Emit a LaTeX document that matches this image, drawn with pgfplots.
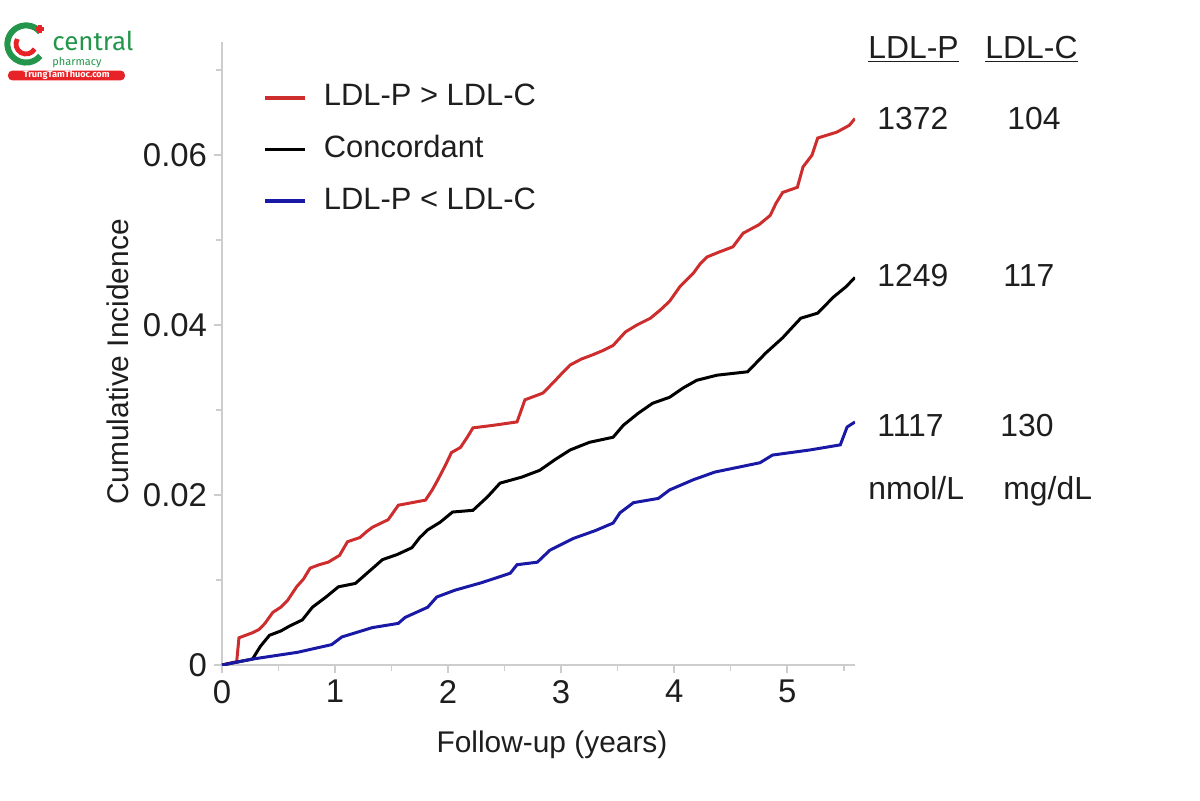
\documentclass[border=0pt]{standalone}
\usepackage{fontspec}
\setmainfont{Liberation Sans}
\newfontfamily\logofont{Fira Sans}
\usepackage{pgfplots}
\pgfplotsset{compat=1.18}
\definecolor{redline}{RGB}{205,45,45}
\definecolor{blueline}{RGB}{25,25,165}
\definecolor{axgray}{RGB}{205,205,205}
\definecolor{txt}{RGB}{30,30,30}
\definecolor{logogreen}{RGB}{35,150,75}
\definecolor{logored}{RGB}{232,35,40}
\begin{document}
\begin{tikzpicture}[x=1bp,y=1bp]
\path[use as bounding box] (-111,-67.5) rectangle (489,332.5);
\begin{axis}[
  at={(0,0)}, anchor=south west,
  scale only axis, width=316.5bp, height=311.5bp,
  xmin=0, xmax=5.6, ymin=0, ymax=0.0733,
  axis x line*=bottom, axis y line*=left,
  axis line style={axgray, line width=1pt},
  xtick={0,1,2,3,4,5},
  minor xtick={0.5,1.5,2.5,3.5,4.5,5.5},
  ytick={0,0.02,0.04,0.06},
  yticklabels={0,0.02,0.04,0.06},
  scaled y ticks=false,
  minor ytick={0.01,0.03,0.05,0.07},
  tick style={axgray, line width=0.8pt},
  major tick length=4bp, minor tick length=3bp,
  tick align=outside,
  /pgf/number format/assume math mode=true,
  tick label style={font=\fontsize{16.5}{16.5}\selectfont, text=txt},
  legend cell align=left,
  legend style={draw=none, fill=none, at={(0.065,0.935)}, anchor=north west,
    font=\fontsize{15.5}{15.5}\selectfont, text=txt, inner sep=0pt, row sep=10.8bp,
    nodes={inner xsep=8.5bp, inner ysep=0pt, text height=11.5bp, text depth=3.5bp}},
  legend image code/.code={\draw[#1, line width=1.7pt] (0bp,0bp) -- (20bp,0bp);},
]
\addplot[redline, line width=1.5pt] coordinates {
(0,0) (0.13,0.0004) (0.15,0.0032) (0.27,0.0038) (0.33,0.0042) (0.38,0.0049) (0.45,0.0062)
(0.52,0.0068) (0.58,0.0076) (0.66,0.0092) (0.72,0.0101) (0.78,0.0114) (0.86,0.0118) (0.94,0.0121) (1.04,0.0129) (1.11,0.0145)
(1.22,0.0150) (1.28,0.0157) (1.33,0.0162) (1.47,0.0171) (1.56,0.0188) (1.68,0.0191) (1.80,0.0194) (1.86,0.0206) (1.91,0.0218)
(1.98,0.0236) (2.03,0.0250) (2.11,0.0256) (2.17,0.0268) (2.22,0.0279) (2.40,0.0282) (2.61,0.0286) (2.68,0.0312)
(2.76,0.0316) (2.84,0.0320) (2.95,0.0335) (3.02,0.0345) (3.08,0.0353) (3.18,0.0360) (3.28,0.0365) (3.37,0.0370) (3.46,0.0376) (3.57,0.0392)
(3.67,0.0400) (3.79,0.0408) (3.88,0.0418) (3.96,0.0428) (4.05,0.0445) (4.17,0.0461) (4.23,0.0472) (4.29,0.0480)
(4.40,0.0486) (4.52,0.0492) (4.61,0.0508) (4.75,0.0518) (4.85,0.0529) (4.90,0.0543) (4.96,0.0556) (5.09,0.0562)
(5.14,0.0586) (5.22,0.0600) (5.27,0.0620) (5.44,0.0627) (5.55,0.0635) (5.60,0.0643)};
\addlegendentry{LDL-P > LDL-C}
\addplot[black, line width=1.5pt] coordinates {
(0,0) (0.27,0.0007) (0.34,0.0022) (0.42,0.0035) (0.52,0.0040) (0.60,0.0046) (0.71,0.0053)
(0.80,0.0068) (0.92,0.0080) (1.03,0.0092) (1.18,0.0096) (1.30,0.0110) (1.42,0.0124)
(1.55,0.0130) (1.68,0.0138) (1.75,0.0150) (1.82,0.0159) (1.93,0.0168) (2.04,0.0180) (2.22,0.0182)
(2.35,0.0198) (2.46,0.0214) (2.65,0.0221) (2.81,0.0229) (2.95,0.0242) (3.08,0.0253)
(3.25,0.0262) (3.46,0.0268) (3.55,0.0282) (3.68,0.0296) (3.81,0.0308) (3.96,0.0315)
(4.08,0.0326) (4.20,0.0335) (4.38,0.0341) (4.65,0.0345) (4.73,0.0356) (4.81,0.0367) (4.96,0.0385)
(5.05,0.0398) (5.12,0.0408) (5.27,0.0414) (5.41,0.0433) (5.52,0.0445) (5.60,0.0456)};
\addlegendentry{Concordant}
\addplot[blueline, line width=1.5pt] coordinates {
(0,0) (0.27,0.0007) (0.67,0.0015) (0.97,0.0024) (1.06,0.0033) (1.33,0.0044)
(1.56,0.0049) (1.62,0.0056) (1.82,0.0068) (1.90,0.0080) (2.06,0.0088) (2.30,0.0097)
(2.55,0.0108) (2.61,0.0118) (2.79,0.0121) (2.90,0.0135) (3.11,0.0149) (3.30,0.0158)
(3.46,0.0167) (3.52,0.0179) (3.64,0.0191) (3.86,0.0196) (3.96,0.0206) (4.17,0.0218)
(4.36,0.0227) (4.76,0.0238) (4.87,0.0247) (5.20,0.0253) (5.47,0.0259) (5.53,0.0280)
(5.60,0.0286)};
\addlegendentry{LDL-P < LDL-C}
\end{axis}
% axis labels
\node[rotate=90, font=\fontsize{15}{15}\selectfont, text=txt] at (-52,151.5) {Cumulative Incidence};
\node[font=\fontsize{15}{15}\selectfont, text=txt] at (165,-40) {Follow-up (years)};
% right annotation
\begin{scope}[every node/.style={font=\fontsize{16}{16}\selectfont, text=txt, inner sep=0pt, anchor=base west}]
\node at (323,303.3) {\underline{LDL-P}};
\node at (381.5,303.3) {\underline{LDL-C}};
\node at (327.5,267.8) {1372};
\node at (392.5,267.8) {104};
\node at (327.5,189.3) {1249};
\node at (390.5,189.3) {117};
\node at (327.5,114.3) {1117};
\node at (389,114.3) {130};
\node at (323,82.8) {nmol/L};
\node at (390.5,82.8) {mg/dL};
\end{scope}
% logo watermark
\draw[logogreen, line width=3bp] (-98,310.5) ++(40:9.3) arc[start angle=40, end angle=320, radius=9.3];
\draw[logored, line width=2.4bp] (-98,310.5) ++(150:5) arc[start angle=150, end angle=330, radius=5];
\fill[logored] (-93.2,317) rectangle (-88.8,319);
\fill[logored] (-92,315.8) rectangle (-90,320.2);
\node[logogreen, font=\logofont\fontsize{13}{13}\selectfont, anchor=base west, inner sep=0pt] at (-85,307.5) {central};
\node[logogreen, font=\logofont\fontsize{5.5}{5.5}\selectfont, anchor=base west, inner sep=0pt] at (-85,300) {pharmacy};
\fill[logored, rounded corners=2.2bp] (-107,292.3) rectangle (-48.5,297.2);
\node[white, font=\logofont\bfseries\fontsize{4.6}{4.6}\selectfont, inner sep=0pt] at (-77.7,294.75) {TrungTamThuoc.com};
\end{tikzpicture}
\end{document}
